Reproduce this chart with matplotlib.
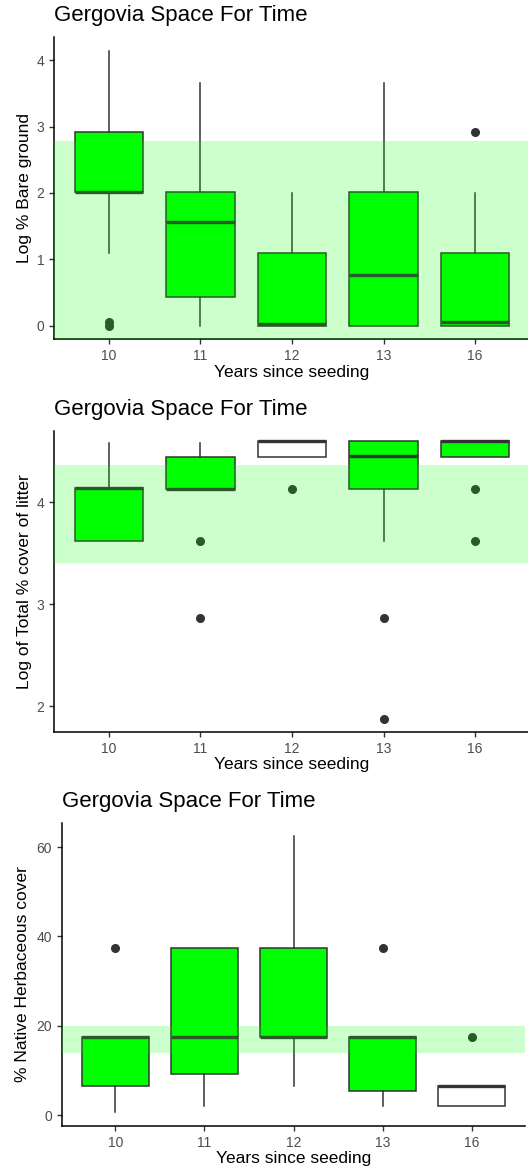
import matplotlib
matplotlib.use("Agg")
import matplotlib.pyplot as plt

plt.rcParams['font.family'] = ['Liberation Sans', 'DejaVu Sans']

years = ["10", "11", "12", "13", "16"]

# panel 1: log % bare ground
bare_q1 = [2.02, 0.44, 0.0, 0.0, 0.0]
bare_med = [2.02, 1.56, 0.02, 0.77, 0.05]
bare_q3 = [2.92, 2.02, 1.10, 2.02, 1.10]
bare_lo = [1.10, 0.0, 0.0, 0.0, 0.0]
bare_hi = [4.14, 3.65, 2.0, 3.65, 2.0]
bare_out = [[0.0, 0.05], [], [], [], [2.92]]
bare_fill = ["#00FF00"] * 5
bare_band = (None, 2.78)

# panel 2: log total % cover of litter
litter_q1 = [3.62, 4.13, 4.44, 4.13, 4.44]
litter_med = [4.14, 4.13, 4.60, 4.45, 4.60]
litter_q3 = [4.14, 4.44, 4.60, 4.60, 4.60]
litter_lo = [3.62, 4.13, 4.44, 3.62, 4.44]
litter_hi = [4.58, 4.58, 4.60, 4.60, 4.60]
litter_out = [[], [3.62, 2.86], [4.13], [2.86, 1.87], [4.13, 3.62]]
litter_fill = ["#00FF00", "#00FF00", "white", "#00FF00", "#00FF00"]
litter_band = (3.40, 4.37)

# panel 3: % native herbaceous cover
native_q1 = [6.5, 9.2, 17.5, 5.3, 2.0]
native_med = [17.5, 17.5, 17.5, 17.5, 6.5]
native_q3 = [17.5, 37.5, 37.5, 17.5, 6.5]
native_lo = [0.7, 2.1, 6.6, 2.1, 2.0]
native_hi = [17.5, 37.5, 62.5, 17.5, 6.5]
native_out = [[37.5], [], [], [37.5], [17.5]]
native_fill = ["#00FF00", "#00FF00", "#00FF00", "#00FF00", "white"]
native_band = (14.0, 20.0)

W, H = 528, 1170
fig = plt.figure(figsize=(W / 100, H / 100), dpi=100)


def panel(rect, q1, med, q3, lo, hi, out, fills, band, ylim, yticks,
          ylabel, title, ylab_x):
    left, top, right, bottom = rect
    ax = fig.add_axes([left / W, 1 - bottom / H, (right - left) / W, (bottom - top) / H])
    stats = []
    for i in range(len(years)):
        stats.append(dict(med=med[i], q1=q1[i], q3=q3[i], whislo=lo[i],
                          whishi=hi[i], fliers=out[i]))
    pos = list(range(1, len(years) + 1))
    bp = ax.bxp(stats, positions=pos, widths=0.75, patch_artist=True,
                showcaps=False,
                boxprops=dict(edgecolor="#333333", linewidth=1.1),
                whiskerprops=dict(color="#333333", linewidth=1.1),
                medianprops=dict(color="#333333", linewidth=2.4, solid_capstyle="butt"),
                flierprops=dict(marker="o", markerfacecolor="#333333",
                                markeredgecolor="#333333", markersize=5.5))
    for b, f in zip(bp["boxes"], fills):
        b.set_facecolor(f)
    ax.set_xlim(0.4, 5.6)
    ax.set_ylim(*ylim)
    # translucent band goes over the boxes, like the ggplot annotate rect
    lo_b = band[0] if band[0] is not None else ylim[0]
    ax.axhspan(lo_b, band[1], color="#00FF00", alpha=0.2, lw=0, zorder=5)
    ax.set_xticks(pos)
    ax.set_xticklabels(years)
    ax.set_yticks(yticks)
    ax.set_yticklabels([str(t) for t in yticks])
    for s in ["top", "right"]:
        ax.spines[s].set_visible(False)
    for s in ["left", "bottom"]:
        ax.spines[s].set_linewidth(1.1)
        ax.spines[s].set_color("black")
    ax.tick_params(axis="both", colors="#333333", labelcolor="#4D4D4D",
                   labelsize=10, length=3.6, width=1.0)
    ax.set_xlabel("Years since seeding", fontsize=12.5, color="black")
    ax.xaxis.set_label_coords(0.5, -33 / (bottom - top))
    ax.set_ylabel(ylabel, fontsize=12.5, color="black")
    ax.yaxis.set_label_coords((ylab_x - left) / (right - left), 0.5)
    ax.xaxis.label.set_va("center")
    ax.yaxis.label.set_va("center")
    fig.text(left / W, 1 - (top - 22) / H, title, fontsize=16,
             ha="left", va="center", color="black")
    return ax


panel((54, 37, 530, 339), bare_q1, bare_med, bare_q3, bare_lo, bare_hi,
      bare_out, bare_fill, bare_band, (-0.2, 4.35), [0, 1, 2, 3, 4],
      "Log % Bare ground", "Gergovia Space For Time", 25)
panel((54, 431, 530, 732), litter_q1, litter_med, litter_q3, litter_lo,
      litter_hi, litter_out, litter_fill, litter_band, (1.745, 4.70),
      [2, 3, 4], "Log of Total % cover of litter", "Gergovia Space For Time", 25)
panel((62, 823, 525, 1126), native_q1, native_med, native_q3, native_lo,
      native_hi, native_out, native_fill, native_band, (-2.46, 65.4),
      [0, 20, 40, 60], "% Native Herbaceous cover", "Gergovia Space For Time", 23)

fig.savefig("out.png", dpi=100)
